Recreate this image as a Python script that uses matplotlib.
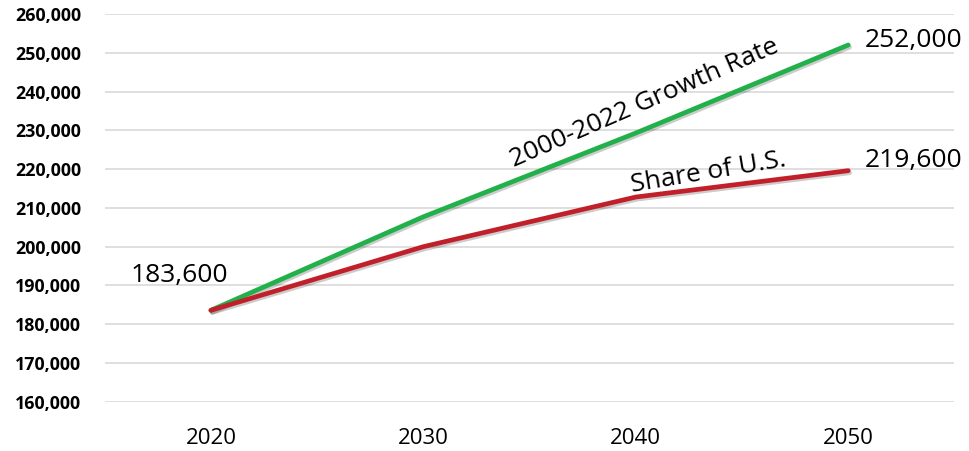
import matplotlib
matplotlib.use("Agg")
import matplotlib.pyplot as plt
import matplotlib.patheffects as pe
from matplotlib.ticker import FuncFormatter

years = [2020, 2030, 2040, 2050]
growth_rate = [183600, 207700, 229300, 252000]
share_us = [183600, 200000, 212800, 219600]
y_ticks = list(range(160000, 260001, 10000))
label_start = "183,600"
label_growth_end = "252,000"
label_share_end = "219,600"

plt.rcParams['font.family'] = ['Open Sans', 'DejaVu Sans']

fig = plt.figure(figsize=(9.69, 4.51), dpi=100)
ax = fig.add_axes([0.108, 0.109, 0.877, 0.86])

shadow = [pe.SimpleLineShadow(offset=(1, -1.5), alpha=0.2, shadow_color='black'), pe.Normal()]
ax.plot(years, growth_rate, color='#22B04B', lw=3.4, solid_capstyle='round', path_effects=shadow, zorder=3)
ax.plot(years, share_us, color='#C1202B', lw=3.4, solid_capstyle='round', path_effects=shadow, zorder=4)

ax.set_xlim(2015, 2055)
ax.set_ylim(160000, 260000)
ax.set_yticks(y_ticks)
ax.set_xticks(years)
ax.yaxis.set_major_formatter(FuncFormatter(lambda v, p: f"{int(v):,}"))
ax.grid(axis='y', color='#d9d9d9', lw=1.2)
ax.set_axisbelow(True)
for s in ax.spines.values():
    s.set_visible(False)
ax.tick_params(axis='y', length=0, pad=17, labelsize=12.8)
ax.tick_params(axis='x', length=0, pad=19, labelsize=16)
for t in ax.get_yticklabels():
    t.set_fontweight('bold')

ax.text(2016.2, 191000, label_start, fontsize=19, ha='left', va='baseline')
ax.text(2050.8, 251500, label_growth_end, fontsize=19, ha='left', va='baseline')
ax.text(2050.8, 220570, label_share_end, fontsize=19, ha='left', va='baseline')
ax.text(2040.4, 237000, "2000-2022 Growth Rate", fontsize=19, ha='center', va='center', rotation=23.5)
ax.text(2043.4, 219000, "Share of U.S.", fontsize=19, ha='center', va='center', rotation=9.5)

fig.savefig("out.png", dpi=100)
